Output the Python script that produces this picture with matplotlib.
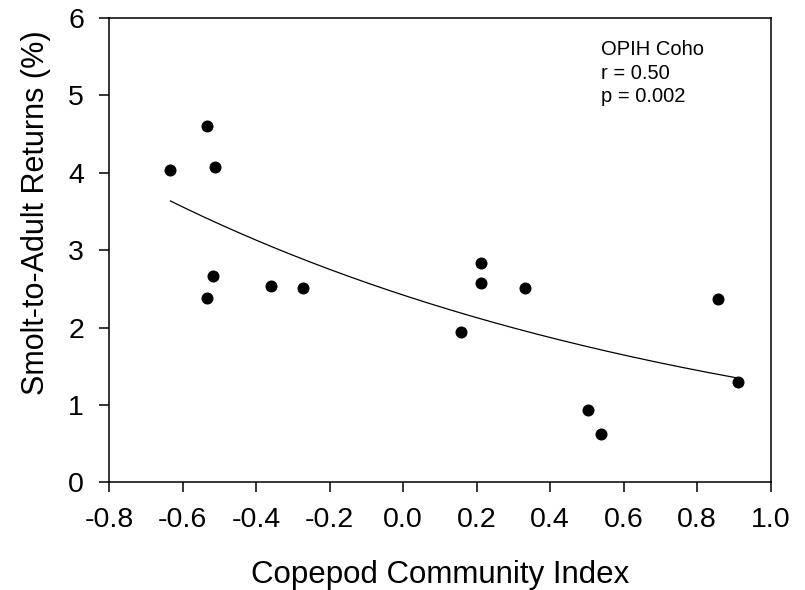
import numpy as np
import matplotlib
matplotlib.use("Agg")
import matplotlib.pyplot as plt
from matplotlib.ticker import FormatStrFormatter

plt.rcParams['font.family'] = ['Liberation Sans', 'DejaVu Sans']

cci = [-0.633, -0.534, -0.513, -0.517, -0.534, -0.358, -0.273,
       0.213, 0.213, 0.158, 0.331, 0.503, 0.538, 0.856, 0.910]
sar = [4.03, 4.60, 4.08, 2.66, 2.385, 2.54, 2.51,
       2.83, 2.58, 1.94, 2.51, 0.94, 0.63, 2.37, 1.29]

# exponential fit y = a * exp(b * x)
fit_a = 2.42
fit_b = -0.643

xticks = [-0.8, -0.6, -0.4, -0.2, 0.0, 0.2, 0.4, 0.6, 0.8, 1.0]
yticks = [0, 1, 2, 3, 4, 5, 6]

fig = plt.figure(figsize=(8.05, 5.9), dpi=100)
ax = fig.add_axes([0.1354, 0.1825, 0.822, 0.787])

ax.scatter(cci, sar, s=75, color='black', zorder=3, linewidths=0)
xf = np.linspace(min(cci), max(cci), 200)
ax.plot(xf, fit_a * np.exp(fit_b * xf), color='black', lw=0.9)

ax.set_xlim(-0.8, 1.0)
ax.set_ylim(0, 6)
ax.set_xticks(xticks)
ax.set_yticks(yticks)
ax.xaxis.set_major_formatter(FormatStrFormatter('%.1f'))
ax.tick_params(direction='out', length=7, width=1.1, labelsize=20.5, pad=11)
for s in ax.spines.values():
    s.set_linewidth(1.1)

ax.set_xlabel('Copepod Community Index', fontsize=22.5, va='center')
ax.set_ylabel('Smolt-to-Adult Returns (%)', fontsize=22, va='center')
ax.xaxis.set_label_coords(0.5, -0.2)
ax.yaxis.set_label_coords(-0.111, 0.58)

ax.text(0.7436, 0.952, 'OPIH Coho\nr = 0.50\np = 0.002', transform=ax.transAxes,
        fontsize=14.5, va='top', ha='left', linespacing=1.3)

fig.savefig('out.png', dpi=100)
